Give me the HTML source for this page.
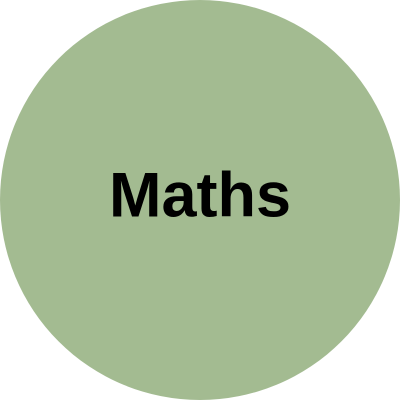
<!DOCTYPE html>
<html>
<head>
<meta charset="utf-8">
<style>
  html, body { margin: 0; padding: 0; background: #ffffff; }
  #wrap { position: relative; width: 400px; height: 400px; overflow: hidden; }
  #circle { position: absolute; left: 0; top: 0; width: 400px; height: 400px; border-radius: 50%; background: #a3bb91; }
  #label { position: absolute; left: 0; width: 400px; top: 213px; text-align: center;
    font-family: "Liberation Sans", sans-serif; font-weight: bold; font-size: 63px; color: #000;
    line-height: 0; }
</style>
</head>
<body>
<div id="wrap">
  <div id="circle"></div>
  <div id="label"><span style="display:inline-block;line-height:0;transform:translateY(-0.28em)">Maths</span></div>
</div>
</body>
</html>
